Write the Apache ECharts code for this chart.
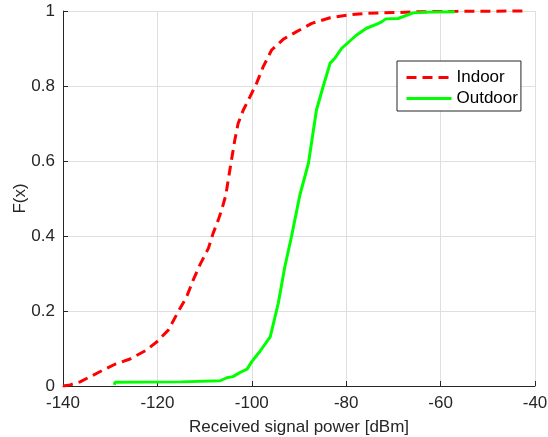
<!DOCTYPE html>
<html>
<head>
<meta charset="utf-8">
<script src="https://cdn.jsdelivr.net/npm/echarts@6/dist/echarts.min.js"></script>
<style>
  html, body { margin: 0; padding: 0; background: #fff; }
  #chart { width: 548px; height: 437px; }
</style>
</head>
<body>
<div id="chart"></div>
<script>
var indoorPower = [-140, -138.5, -136.4, -132.2, -129, -128, -125.8, -122.3, -120.1, -117.7, -115.6,
  -113.8, -112.4, -111, -109.2, -108.2, -107.1, -106.4, -105.5, -105, -104.3, -103.6, -102.9,
  -101.8, -100.4, -99, -97.6, -95.8, -93.3, -90.5, -87.3, -83.4, -79.9, -75.7, -69.3, -64.4, -56.6, -42.5];
var indoorCdf = [0, 0.003, 0.011, 0.038, 0.058, 0.062, 0.072, 0.096, 0.118, 0.149, 0.198,
  0.238, 0.283, 0.323, 0.367, 0.407, 0.443, 0.469, 0.509, 0.549, 0.603, 0.656, 0.70,
  0.736, 0.771, 0.807, 0.851, 0.896, 0.925, 0.945, 0.967, 0.982, 0.989, 0.994, 0.996, 0.998, 0.999, 1.0];

var outdoorPower = [-129.1, -129, -115, -106.7, -105.3, -104, -102.5, -101, -100, -98.3, -96.1,
  -94.4, -93, -91.6, -89.8, -88, -86.3, -84.9, -83.4, -82.4, -81, -77.8, -75.7, -73.5, -72.5,
  -71.6, -69, -65.8, -62.2, -57];
var outdoorCdf = [0.003, 0.01, 0.011, 0.014, 0.022, 0.025, 0.036, 0.045, 0.065, 0.092, 0.131,
  0.22, 0.318, 0.398, 0.51, 0.594, 0.736, 0.798, 0.861, 0.874, 0.90, 0.936, 0.954, 0.965, 0.971,
  0.979, 0.98, 0.995, 0.997, 0.998];

var xTicks = [-140, -120, -100, -80, -60, -40];
var yTicks = [0, 0.2, 0.4, 0.6, 0.8, 1];

function pairs(xs, ys) {
  return xs.map(function (x, i) { return [x, ys[i]]; });
}

var fontFamily = '"Liberation Sans", Arial, Helvetica, sans-serif';
var axisColor = '#262626';
var fontSize = 17;

var myChart = echarts.init(document.getElementById('chart'), null, { renderer: 'canvas' });

var option = {
  backgroundColor: '#fff',
  animation: false,
  textStyle: { fontFamily: fontFamily },
  grid: {
    left: 63,
    right: 13,
    top: 11,
    bottom: 51,
    outerBoundsMode: 'none'
  },
  legend: {
    orient: 'vertical',
    left: 397,
    top: 61,
    padding: [8, 3, 4, 8],
    itemGap: 4,
    itemWidth: 45,
    itemHeight: 14,
    borderColor: '#262626',
    borderWidth: 1,
    backgroundColor: '#fff',
    itemStyle: { opacity: 0 },
    lineStyle: { width: 3 },
    textStyle: { fontSize: fontSize, color: '#000', fontFamily: fontFamily },
    data: ['Indoor', 'Outdoor']
  },
  xAxis: {
    type: 'value',
    min: xTicks[0],
    max: xTicks[xTicks.length - 1],
    interval: 20,
    name: 'Received signal power [dBm]',
    nameLocation: 'middle',
    nameGap: 33,
    nameMoveOverlap: false,
    nameTextStyle: { fontSize: fontSize, color: axisColor, fontFamily: fontFamily },
    axisLine: { show: true, onZero: false, lineStyle: { color: axisColor, width: 1 } },
    axisTick: { show: true, inside: true, length: 5, lineStyle: { color: axisColor } },
    axisLabel: { fontSize: fontSize, color: axisColor, margin: 9, fontFamily: fontFamily },
    splitLine: { show: true, lineStyle: { color: '#dfdfdf', width: 1 } }
  },
  yAxis: {
    type: 'value',
    min: yTicks[0],
    max: yTicks[yTicks.length - 1],
    interval: 0.2,
    name: 'F(x)',
    nameLocation: 'middle',
    nameGap: 34,
    nameMoveOverlap: false,
    nameTextStyle: { fontSize: fontSize, color: axisColor, fontFamily: fontFamily },
    axisLine: { show: true, lineStyle: { color: axisColor, width: 1 } },
    axisTick: { show: true, inside: true, length: 5, lineStyle: { color: axisColor } },
    axisLabel: { fontSize: fontSize, color: axisColor, margin: 8, fontFamily: fontFamily },
    splitLine: { show: true, lineStyle: { color: '#dfdfdf', width: 1 } }
  },
  series: [{
    name: 'Indoor',
    type: 'line',
    data: pairs(indoorPower, indoorCdf),
    showSymbol: false,
    symbol: 'none',
    clip: false,
    z: 3,
    itemStyle: { color: '#ff0000' },
    lineStyle: { color: '#ff0000', width: 3, type: [10, 6] }
  }, {
    name: 'Outdoor',
    type: 'line',
    data: pairs(outdoorPower, outdoorCdf),
    showSymbol: false,
    symbol: 'none',
    clip: false,
    z: 4,
    itemStyle: { color: '#00ff00' },
    lineStyle: { color: '#00ff00', width: 3 }
  }]
};

myChart.setOption(option);
</script>
</body>
</html>
